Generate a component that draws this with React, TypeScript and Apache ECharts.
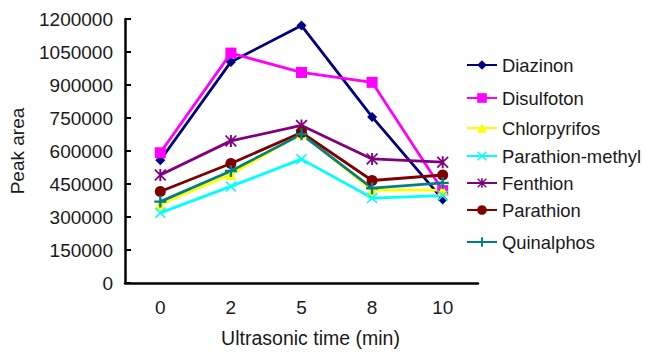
import React, { useEffect, useRef } from "react";
import * as echarts from "echarts";

const categories = ["0", "2", "5", "8", "10"];
const seriesNames = [
  "Diazinon",
  "Disulfoton",
  "Chlorpyrifos",
  "Parathion-methyl",
  "Fenthion",
  "Parathion",
  "Quinalphos",
];
const diazinon = [558000, 1005000, 1170000, 755000, 380000];
const disulfoton = [592000, 1045000, 957000, 912000, 420000];
const chlorpyrifos = [358000, 493000, 680000, 422000, 422000];
const parathionMethyl = [319000, 439000, 563000, 386000, 397000];
const fenthion = [491000, 646000, 716000, 564000, 549000];
const parathion = [416000, 543000, 684000, 466000, 491000];
const quinalphos = [370000, 509000, 676000, 431000, 455000];
const yTicks = { min: 0, max: 1200000, interval: 150000 };

const allData = [diazinon, disulfoton, chlorpyrifos, parathionMethyl, fenthion, parathion, quinalphos];
const colors = ["#000080", "#FF00FF", "#FFFF00", "#00FFFF", "#800080", "#800000", "#008080"];

const PLUS = "path://M4,0H6V4H10V6H6V10H4V6H0V4H4Z";
const XMARK = "path://M1,0L5,4L9,0L10,1L6,5L10,9L9,10L5,6L1,10L0,9L4,5L0,1Z";
const STAR = "path://M1,0L5,4L9,0L10,1L6,5L10,9L9,10L5,6L1,10L0,9L4,5L0,1Z M4.2,0H5.8V10H4.2Z";
const symbols = ["diamond", "rect", "triangle", XMARK, STAR, "circle", PLUS];
const symbolSizes = [10, 11, 11, 11, 12, 11, 12];
const legendCenters = [66, 99, 129, 157, 184, 211, 243];

const FONT = "'Liberation Sans', Arial, Helvetica, sans-serif";
const TEXT = "#1a1a1a";
const FS = 19;

export default function App() {
  const ref = useRef<HTMLDivElement>(null);
  useEffect(() => {
    if (!ref.current) return;
    const chart = echarts.init(ref.current, null, { renderer: "svg" });
    chart.setOption({
      animation: false,
      backgroundColor: "#ffffff",
      textStyle: { fontFamily: FONT, color: TEXT },
      grid: { left: 124, right: 167, top: 19, bottom: 66, containLabel: false },
      legend: seriesNames.map((n, i) => ({
        data: [n],
        left: 466,
        top: legendCenters[i] - 10,
        padding: 0,
        itemWidth: 30,
        itemHeight: 12,
        itemGap: 0,
        textStyle: { fontSize: 18.4, color: TEXT, fontFamily: FONT },
        selectedMode: false,
      })),
      xAxis: {
        type: "category",
        data: categories,
        boundaryGap: true,
        name: "Ultrasonic time (min)",
        nameLocation: "middle",
        nameGap: 45,
        nameTextStyle: { fontSize: 19.5, color: TEXT, fontFamily: FONT, padding: [0, 0, 0, 18] },
        axisLine: { lineStyle: { color: "#000", width: 2.5 } },
        axisTick: { inside: true, length: 6, lineStyle: { color: "#000", width: 2 } },
        axisLabel: { fontSize: FS, color: TEXT, margin: 15, fontFamily: FONT },
        splitLine: { show: false },
      },
      yAxis: {
        type: "value",
        min: yTicks.min,
        max: yTicks.max,
        interval: yTicks.interval,
        name: "Peak area",
        nameLocation: "middle",
        nameGap: 98,
        nameTextStyle: { fontSize: FS, color: TEXT, fontFamily: FONT },
        axisLine: { show: true, lineStyle: { color: "#000", width: 2.5 } },
        axisTick: { show: true, inside: true, length: 6, lineStyle: { color: "#000", width: 2 } },
        axisLabel: { fontSize: FS, color: TEXT, margin: 12, fontFamily: FONT, formatter: (v: number) => String(v) },
        splitLine: { show: false },
      },
      series: seriesNames.map((n, i) => ({
        name: n,
        type: "line",
        data: allData[i],
        color: colors[i],
        symbol: symbols[i],
        symbolSize: symbolSizes[i],
        showAllSymbol: true,
        lineStyle: { width: 2.8, color: colors[i] },
        itemStyle: { color: colors[i] },
        emphasis: { disabled: true },
      })),
    });
    return () => chart.dispose();
  }, []);
  return <div ref={ref} style={{ width: 645, height: 353, position: "absolute", left: 0, top: 0 }} />;
}
